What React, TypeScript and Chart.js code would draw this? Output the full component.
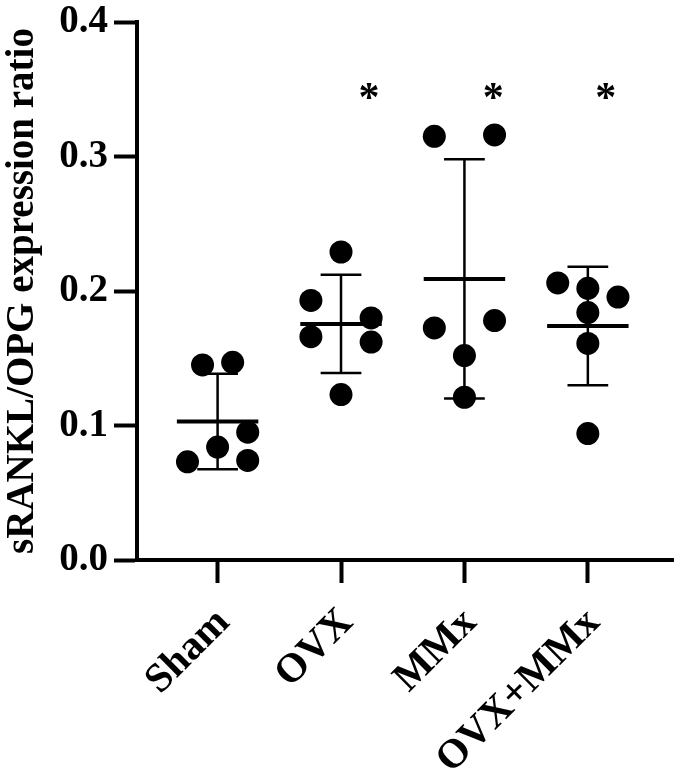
import React, { useEffect, useRef } from "react";
import { Chart, registerables } from "chart.js";

Chart.register(...registerables);

// ---------- data ----------
const categories = ["Sham", "OVX", "MMx", "OVX+MMx"];
const shamValues = [0.145, 0.147, 0.095, 0.084, 0.073, 0.074];
const ovxValues = [0.229, 0.193, 0.18, 0.166, 0.162, 0.123];
const mmxValues = [0.315, 0.316, 0.1725, 0.178, 0.152, 0.121];
const ovxMmxValues = [0.206, 0.202, 0.1955, 0.184, 0.161, 0.094];
const groupMeans = [0.103, 0.1755, 0.209, 0.174];
const groupSD = [0.0355, 0.0365, 0.089, 0.044];
const significant = [false, true, true, true];
const yTicks = [0, 0.1, 0.2, 0.3, 0.4];
const yTitle = "sRANKL/OPG expression ratio";

// ---------- layout (not data) ----------
const groupValues = [shamValues, ovxValues, mmxValues, ovxMmxValues];
const jitterSlots = [
  [-1, 1, 2, 0, -2, 2],
  [0, -2, 2, -2, 2, 0],
  [-2, 2, -2, 2, 0, 0],
  [-2, 0, 2, 0, 0, 0],
];
const slotWidth = 0.122;
const meanHalf = 0.33;
const capHalf = 0.165;
const starOffsets = [0, 0.226, 0.234, 0.145];
const starLevel = 0.342;
const FONT = "'Liberation Serif', 'Times New Roman', serif";

const overlayPlugin = {
  id: "meanSdOverlay",
  afterDatasetsDraw(chart: any) {
    const { ctx } = chart;
    const x = chart.scales.x;
    const y = chart.scales.y;
    ctx.save();
    ctx.strokeStyle = "#000";
    ctx.lineCap = "butt";
    groupMeans.forEach((m, i) => {
      const sd = groupSD[i];
      const cx = x.getPixelForValue(i);
      const yTop = y.getPixelForValue(m + sd);
      const yBot = y.getPixelForValue(m - sd);
      const yM = y.getPixelForValue(m);
      ctx.lineWidth = 2.5;
      ctx.beginPath();
      ctx.moveTo(cx, yTop);
      ctx.lineTo(cx, yBot);
      ctx.stroke();
      const cl = x.getPixelForValue(i - capHalf);
      const cr = x.getPixelForValue(i + capHalf);
      ctx.beginPath();
      ctx.moveTo(cl, yTop);
      ctx.lineTo(cr, yTop);
      ctx.moveTo(cl, yBot);
      ctx.lineTo(cr, yBot);
      ctx.stroke();
      ctx.lineWidth = 4;
      ctx.beginPath();
      ctx.moveTo(x.getPixelForValue(i - meanHalf), yM);
      ctx.lineTo(x.getPixelForValue(i + meanHalf), yM);
      ctx.stroke();
      if (significant[i]) {
        ctx.fillStyle = "#000";
        ctx.font = `bold 42px ${FONT}`;
        ctx.textAlign = "center";
        ctx.textBaseline = "middle";
        ctx.fillText("*", x.getPixelForValue(i + starOffsets[i]), y.getPixelForValue(starLevel));
      }
    });
    ctx.restore();
  },
};

export default function App() {
  const canvasRef = useRef<HTMLCanvasElement | null>(null);

  useEffect(() => {
    const canvas = canvasRef.current;
    if (!canvas) return;
    const datasets = groupValues.map((vals, i) => ({
      label: categories[i],
      data: vals.map((v, j) => ({ x: i + jitterSlots[i][j] * slotWidth, y: v })),
      pointRadius: 11.5,
      pointHoverRadius: 11.5,
      backgroundColor: "#000",
      borderColor: "#000",
      borderWidth: 0,
      showLine: false,
    }));

    const chart = new Chart(canvas, {
      type: "scatter",
      data: { datasets },
      plugins: [overlayPlugin],
      options: {
        responsive: false,
        animation: false,
        events: [],
        layout: { padding: { top: 22, right: 9, left: 0, bottom: 0 } },
        plugins: { legend: { display: false }, tooltip: { enabled: false } },
        scales: {
          x: {
            type: "linear",
            min: -0.653,
            max: 3.694,
            afterBuildTicks: (s: any) => {
              s.ticks = categories.map((_, i) => ({ value: i }));
            },
            afterFit: (s: any) => {
              s.height = 209;
              s.paddingLeft = 0;
              s.paddingRight = 0;
            },
            ticks: {
              autoSkip: false,
              minRotation: 45,
              maxRotation: 45,
              padding: 16,
              labelOffset: 6,
              color: "#000",
              font: { family: FONT, size: 41, weight: "bold" },
              callback: (v: any) => categories[Math.round(Number(v))] ?? "",
            },
            grid: {
              drawOnChartArea: false,
              drawTicks: true,
              tickLength: 23,
              tickWidth: 4,
              tickColor: "#000",
            },
            border: { display: true, width: 4, color: "#000" },
          },
          y: {
            type: "linear",
            min: 0,
            max: 0.4,
            afterBuildTicks: (s: any) => {
              s.ticks = yTicks.map((v) => ({ value: v }));
            },
            afterFit: (s: any) => {
              s.width = 137;
              s.paddingTop = 0;
              s.paddingBottom = 0;
            },
            ticks: {
              padding: 6,
              color: "#000",
              font: { family: FONT, size: 39, weight: "bold" },
              callback: (v: any) => Number(v).toFixed(1),
            },
            grid: {
              drawOnChartArea: false,
              drawTicks: true,
              tickLength: 23,
              tickWidth: 4,
              tickColor: "#000",
            },
            border: { display: true, width: 4, color: "#000" },
            title: {
              display: true,
              text: yTitle,
              color: "#000",
              font: { family: FONT, size: 39, weight: "bold" },
              padding: { top: 0, bottom: 0 },
            },
          },
        },
      },
    } as any);
    return () => chart.destroy();
  }, []);

  return (
    <div style={{ position: "absolute", left: 0, top: 0, width: 685, height: 769, background: "#fff" }}>
      <canvas ref={canvasRef} width={685} height={769} style={{ display: "block" }} />
    </div>
  );
}
